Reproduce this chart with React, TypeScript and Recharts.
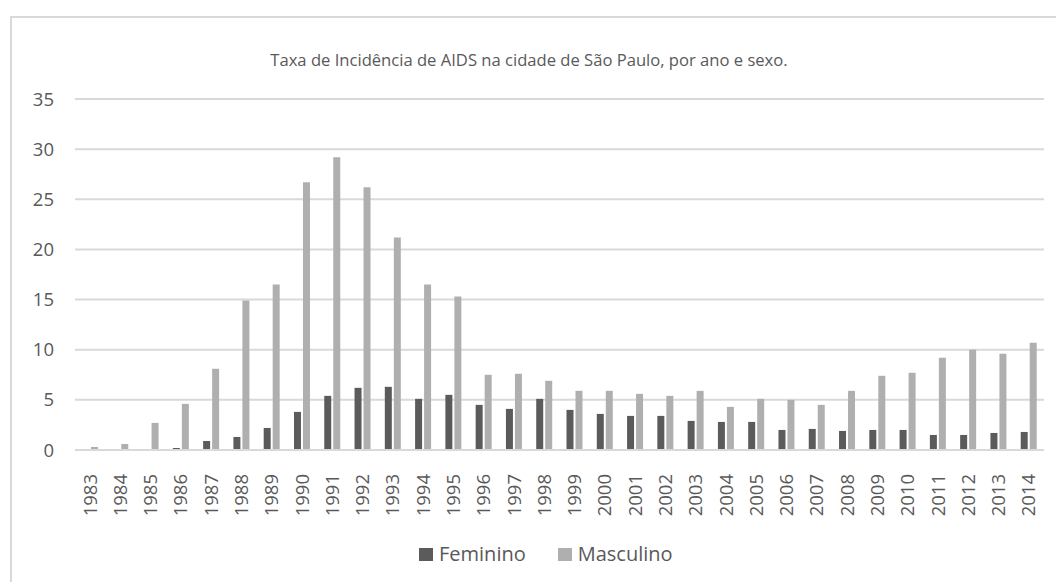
import React from "react";
import { BarChart, Bar, XAxis, YAxis, CartesianGrid, Legend } from "recharts";

const years = [
  "1983", "1984", "1985", "1986", "1987", "1988", "1989", "1990", "1991", "1992", "1993",
  "1994", "1995", "1996", "1997", "1998", "1999", "2000", "2001", "2002", "2003", "2004",
  "2005", "2006", "2007", "2008", "2009", "2010", "2011", "2012", "2013", "2014",
];

const feminino = [
  0, 0, 0, 0.2, 0.9, 1.3, 2.2, 3.8, 5.4, 6.2, 6.3,
  5.1, 5.5, 4.5, 4.1, 5.1, 4.0, 3.6, 3.4, 3.4, 2.9, 2.8,
  2.8, 2.0, 2.1, 1.9, 2.0, 2.0, 1.5, 1.5, 1.7, 1.8,
];

const masculino = [
  0.3, 0.6, 2.7, 4.6, 8.1, 14.9, 16.5, 26.7, 29.2, 26.2, 21.2,
  16.5, 15.3, 7.5, 7.6, 6.9, 5.9, 5.9, 5.6, 5.4, 5.9, 4.3,
  5.1, 5.0, 4.5, 5.9, 7.4, 7.7, 9.2, 10.0, 9.6, 10.7,
];

const yTicks = [0, 5, 10, 15, 20, 25, 30, 35];

const title = "Taxa de Incidência de AIDS na cidade de São Paulo, por ano e sexo.";

const FEM = "#5b5b5b";
const MASC = "#afafaf";
const GRID = "#d9d9d9";
const TEXT = "#595959";
const FONT = "'Open Sans', sans-serif";

const data = years.map((year, i) => ({ year, Feminino: feminino[i], Masculino: masculino[i] }));

const LegendContent = () => (
  <div style={{ display: "flex", alignItems: "center", paddingLeft: 407, fontFamily: FONT, fontSize: 20, color: TEXT, lineHeight: "24px" }}>
    {[{ name: "Feminino", color: FEM }, { name: "Masculino", color: MASC }].map((s, i) => (
      <div key={s.name} style={{ display: "flex", alignItems: "center", gap: 6, marginLeft: i ? 32 : 0 }}>
        <span style={{ width: 14, height: 13, background: s.color, display: "inline-block" }} />
        <span>{s.name}</span>
      </div>
    ))}
  </div>
);

// rotated year label, end of the text sitting just under the baseline
const YearTick = ({ x, y, payload }: any) => (
  <text
    x={0}
    y={0}
    transform={`translate(${x + 6.5},${y + 16}) rotate(-90)`}
    textAnchor="end"
    fontSize={18.5}
    fontFamily={FONT}
    fill={TEXT}
  >
    {payload.value}
  </text>
);

const ValueTick = ({ x, y, payload }: any) => (
  <text x={x - 13} y={y + 6.5} textAnchor="end" fontSize={18.5} fontFamily={FONT} fill={TEXT}>
    {payload.value}
  </text>
);

export default function App() {
  return (
    <div
      style={{
        position: "fixed", left: 10, top: 16, width: 1046, height: 566,
        borderTop: `2px solid ${GRID}`, borderLeft: `2px solid ${GRID}`,
        boxSizing: "border-box", background: "#fff",
      }}
    >
      <div
        style={{
          position: "absolute", left: 0, width: 1034, top: 30, textAlign: "center",
          fontFamily: FONT, fontSize: 16.6, color: TEXT,
        }}
      >
        {title}
      </div>
      <BarChart
        width={1044}
        height={564}
        data={data}
        margin={{ top: 81, right: 12, bottom: 16, left: 0 }}
        barGap={2}
        barSize={7}
      >
        <CartesianGrid vertical={false} stroke={GRID} strokeWidth={2} />
        <YAxis
          domain={[0, 35]}
          ticks={yTicks}
          width={63}
          axisLine={false}
          tickLine={false}
          tick={<ValueTick />}
        />
        <XAxis
          dataKey="year"
          interval={0}
          height={92}
          axisLine={{ stroke: GRID, strokeWidth: 2 }}
          tickLine={false}
          tick={<YearTick />}
        />
        <Legend verticalAlign="bottom" height={24} content={<LegendContent />} />
        <Bar dataKey="Feminino" fill={FEM} isAnimationActive={false} />
        <Bar dataKey="Masculino" fill={MASC} isAnimationActive={false} />
      </BarChart>
    </div>
  );
}
